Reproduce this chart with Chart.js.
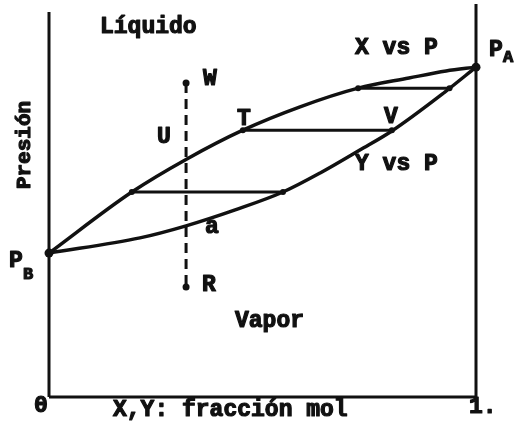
<!DOCTYPE html>
<html>
<head>
<meta charset="utf-8">
<script src="https://cdn.jsdelivr.net/npm/chart.js@4/dist/chart.umd.min.js"></script>
<style>
    html, body { margin: 0; padding: 0; background: #fff; }
    #wrap { width: 518px; height: 424px; }
</style>
</head>
<body>
<div id="wrap"><canvas id="diagramaPx" width="518" height="424"></canvas></div>
<script>
// Curva X vs P (líquido): fracción mol y presión
var liquidoX = [0, 0.194, 0.323, 0.454, 0.588, 0.724, 0.843, 0.930, 1];
var liquidoP = [37.0, 52.7, 61.2, 68.6, 74.6, 79.4, 82.0, 83.8, 84.8];

// Curva Y vs P (vapor)
var vaporY = [0, 0.213, 0.321, 0.436, 0.548, 0.635, 0.728, 0.803, 0.927, 1];
var vaporP = [37.0, 40.9, 44.0, 48.1, 52.7, 57.6, 63.5, 68.4, 78.4, 84.8];

// Líneas de unión: presión, x del líquido, y del vapor
var unionP = [52.7, 68.6, 79.4];
var unionX = [0.194, 0.454, 0.724];
var unionY = [0.548, 0.803, 0.938];

// Línea de composición constante W - R
var composicionZ = 0.321;
var composicionP = [80.7, 28.3];

// Presiones de vapor de los puros (x = 0 -> PB, x = 1 -> PA)
var puroX = [0, 1];
var puroP = [37.0, 84.8];

var tinta = "#111";
var letra = "'Liberation Mono', 'DejaVu Sans Mono', monospace";

function puntos(xs, ps) {
    return xs.map(function (x, i) { return { x: x, y: ps[i] }; });
}

var datasets = [];

// ejes del diagrama
datasets.push({ data: [{ x: 0, y: 0 }, { x: 0, y: 99 }], borderWidth: 3 });
datasets.push({ data: [{ x: 1, y: 0 }, { x: 1, y: 101 }], borderWidth: 3 });
datasets.push({ data: [{ x: 0, y: 0 }, { x: 1, y: 0 }], borderWidth: 3 });

// curvas
datasets.push({ data: puntos(liquidoX, liquidoP), borderWidth: 3.5, cubicInterpolationMode: "monotone" });
datasets.push({ data: puntos(vaporY, vaporP), borderWidth: 3.5, cubicInterpolationMode: "monotone" });

// líneas de unión
unionP.forEach(function (p, i) {
    datasets.push({
        data: [{ x: unionX[i], y: p }, { x: unionY[i], y: p }],
        borderWidth: 3,
        pointRadius: 3,
    });
});

// W ... R punteada
datasets.push({
    data: composicionP.map(function (p) { return { x: composicionZ, y: p }; }),
    borderWidth: 3,
    borderDash: [10, 6],
    pointRadius: 3.5,
});

// PA y PB
datasets.push({ data: puntos(puroX, puroP), showLine: false, pointRadius: 4.5 });

datasets.forEach(function (ds) {
    ds.showLine = ds.showLine !== false;
    ds.borderColor = tinta;
    ds.backgroundColor = tinta;
    ds.pointBackgroundColor = tinta;
    ds.pointBorderWidth = 0;
    if (ds.pointRadius === undefined) ds.pointRadius = 0;
    ds.clip = false;
});

// textos del diagrama (máquina de escribir)
var rotulos = [
    { t: "Líquido", x: 100, y: 27 },
    { t: "X vs P", x: 355, y: 48 },
    { t: "Y vs P", x: 355, y: 164 },
    { t: "Vapor", x: 235, y: 321 },
    { t: "W", x: 203, y: 79 },
    { t: "U", x: 157, y: 137 },
    { t: "T", x: 237, y: 119 },
    { t: "V", x: 384, y: 117 },
    { t: "a", x: 205, y: 227 },
    { t: "R", x: 202, y: 285 },
    { t: "0", x: 34, y: 406 },
    { t: "1.", x: 469, y: 407 },
    { t: "X,Y: fracción mol", x: 113, y: 410 },
    { t: "P", x: 489, y: 50 },
    { t: "A", x: 503, y: 58, f: 17 },
    { t: "P", x: 9, y: 261 },
    { t: "B", x: 23, y: 275, f: 17 },
];

// texto relleno y repasado para que quede grueso
function escribir(ctx, t, x, y) {
    ctx.fillText(t, x, y);
    ctx.strokeText(t, x, y);
}

var textos = {
    id: "textos",
    afterDatasetsDraw: function (chart) {
        var ctx = chart.ctx;
        ctx.save();
        ctx.fillStyle = tinta;
        ctx.strokeStyle = tinta;
        ctx.lineWidth = 1.2;
        ctx.lineJoin = "round";
        ctx.textAlign = "left";
        ctx.textBaseline = "middle";
        rotulos.forEach(function (r) {
            ctx.font = "bold " + (r.f || 23) + "px " + letra;
            escribir(ctx, r.t, r.x, r.y);
        });
        ctx.translate(25, 145);
        ctx.rotate(-Math.PI / 2);
        ctx.textAlign = "center";
        ctx.font = "bold 21px " + letra;
        escribir(ctx, "Presión", 0, 0);
        ctx.restore();
    },
};

var ctx = document.getElementById("diagramaPx").getContext("2d");
new Chart(ctx, {
    type: "scatter",
    data: { datasets: datasets },
    options: {
        responsive: false,
        animation: false,
        layout: { padding: { left: 49, right: 42, top: 8, bottom: 27 } },
        plugins: { legend: { display: false }, tooltip: { enabled: false } },
        scales: {
            x: { type: "linear", min: 0, max: 1, display: false },
            y: { type: "linear", min: 0, max: 100, display: false },
        },
    },
    plugins: [textos],
});
</script>
</body>
</html>
